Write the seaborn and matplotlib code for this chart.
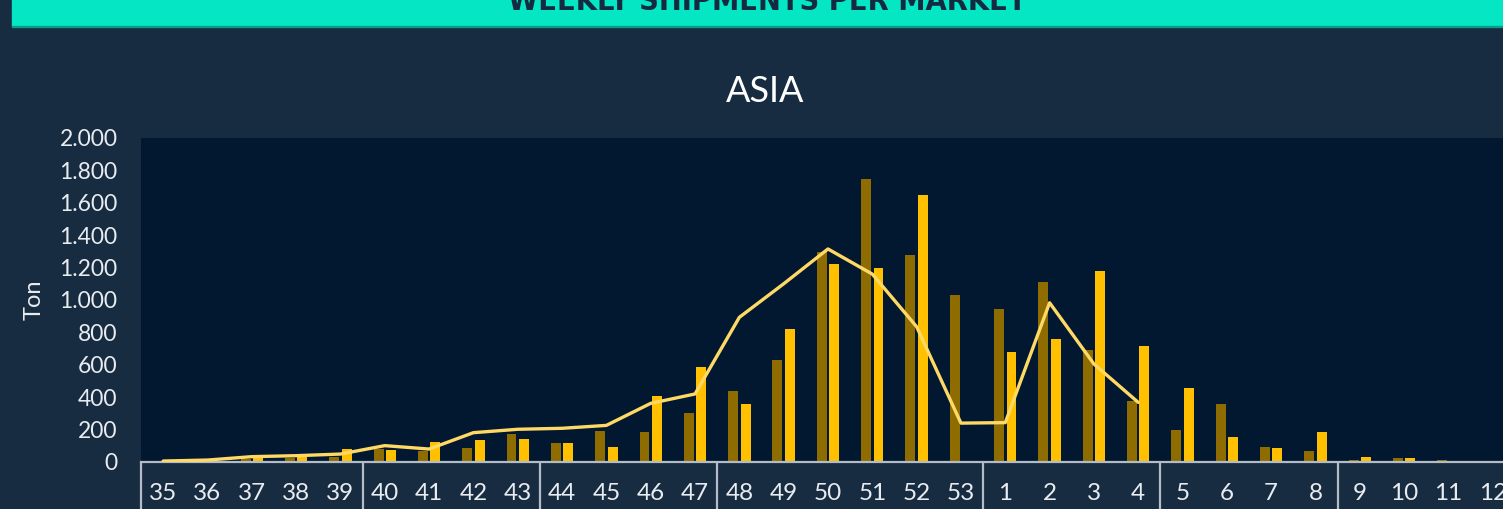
import seaborn as sns
import matplotlib.pyplot as plt
import pandas as pd
import numpy as np
from matplotlib import ticker
from matplotlib.patches import Rectangle

# Data (tons per week)
weeks = ["35", "36", "37", "38", "39", "40", "41", "42", "43", "44", "45", "46", "47",
         "48", "49", "50", "51", "52", "53", "1", "2", "3", "4", "5", "6", "7", "8",
         "9", "10", "11", "12"]
prev_season = [0, 0, 20, 23, 30, 80, 70, 84, 171, 119, 189, 185, 304,
               440, 632, 1298, 1747, 1280, 1029, 946, 1111, 693, 375, 200, 358, 95, 66,
               14, 27, 12, 0]
curr_season = [0, 0, 25, 50, 78, 74, 123, 136, 140, 119, 95, 409, 588,
               356, 823, 1220, 1196, 1650, 0, 679, 757, 1177, 716, 455, 152, 89, 185,
               29, 23, 0, 0]
# line only runs up to week 4
trend = [6, 12, 33, 39, 49, 101, 80, 181, 202, 208, 226, 362, 420,
         893, 1100, 1315, 1160, 835, 240, 243, 983, 605, 368]
# month boundaries in the week axis (after these labels)
month_ends = ["39", "43", "47", "53", "4", "8"]

BG = "#172B41"
PLOT_BG = "#011830"
DARK_GOLD = "#8F6C00"
GOLD = "#FFC000"
LINE = "#FFD966"
TEXT = "#E8EBEF"
EDGE = "#B4BCC6"

sns.set_theme(style="white")
plt.rcParams["font.family"] = ["Lato", "DejaVu Sans"]

df = pd.DataFrame({
    "week": weeks * 2,
    "ton": prev_season + curr_season,
    "season": ["prev"] * len(weeks) + ["curr"] * len(weeks),
})

fig = plt.figure(figsize=(15.03, 5.09), dpi=100, facecolor=BG)
ax = fig.add_axes([141 / 1503, 47 / 509, 1362 / 1503, 324 / 509])
ax.set_facecolor(PLOT_BG)

sns.barplot(ax=ax, data=df, x="week", y="ton", hue="season",
            palette={"prev": DARK_GOLD, "curr": GOLD}, width=0.56, gap=0.2,
            saturation=1, legend=False, order=weeks, linewidth=0)
sns.lineplot(ax=ax, x=np.arange(len(trend)), y=trend, color=LINE, lw=2.4, zorder=5)

ax.set_xlim(-0.5, 30.23)
ax.set_ylim(0, 2000)
ax.yaxis.set_major_locator(ticker.MultipleLocator(200))
ax.yaxis.set_major_formatter(ticker.FuncFormatter(lambda v, p: f"{int(v):,}".replace(",", ".")))

for s in ["top", "right", "left"]:
    ax.spines[s].set_visible(False)
ax.spines["bottom"].set_color(EDGE)
ax.spines["bottom"].set_linewidth(1.6)

ax.tick_params(axis="x", length=0, pad=15, labelsize=17.5, labelcolor=TEXT)
ax.tick_params(axis="y", length=0, pad=17, labelsize=16.5, labelcolor=TEXT)
ax.set_xlabel("")
ax.set_ylabel("Ton", color=TEXT, fontsize=17)
ax.yaxis.set_label_coords(-0.071, 0.5)

# month separator boxes under the axis
tr = ax.get_xaxis_transform()
sep_x = [-0.5] + [weeks.index(w) + 0.5 for w in month_ends]
for x in sep_x:
    ax.plot([x, x], [0, -0.3], transform=tr, color=EDGE, lw=1.6, clip_on=False)

# header banner
fig.patches.append(Rectangle((12 / 1503, 1 - 26 / 509), 1, 26 / 509,
                             transform=fig.transFigure, color="#05E6C4", zorder=0))
fig.patches.append(Rectangle((12 / 1503, 1 - 27 / 509), 1, 1.5 / 509,
                             transform=fig.transFigure, color="#0B9C88", zorder=0))
fig.text(767 / 1503, 1 - 10 / 509, "WEEKLY SHIPMENTS PER MARKET", ha="center",
         va="baseline", color="#142A40", fontsize=22, fontweight="bold",
         family="DejaVu Sans", fontstretch="condensed")

fig.text(765 / 1503, 1 - 91 / 509, "ASIA", ha="center", va="center",
         color="white", fontsize=26)

plt.savefig("out.png", dpi=100, facecolor=BG)
